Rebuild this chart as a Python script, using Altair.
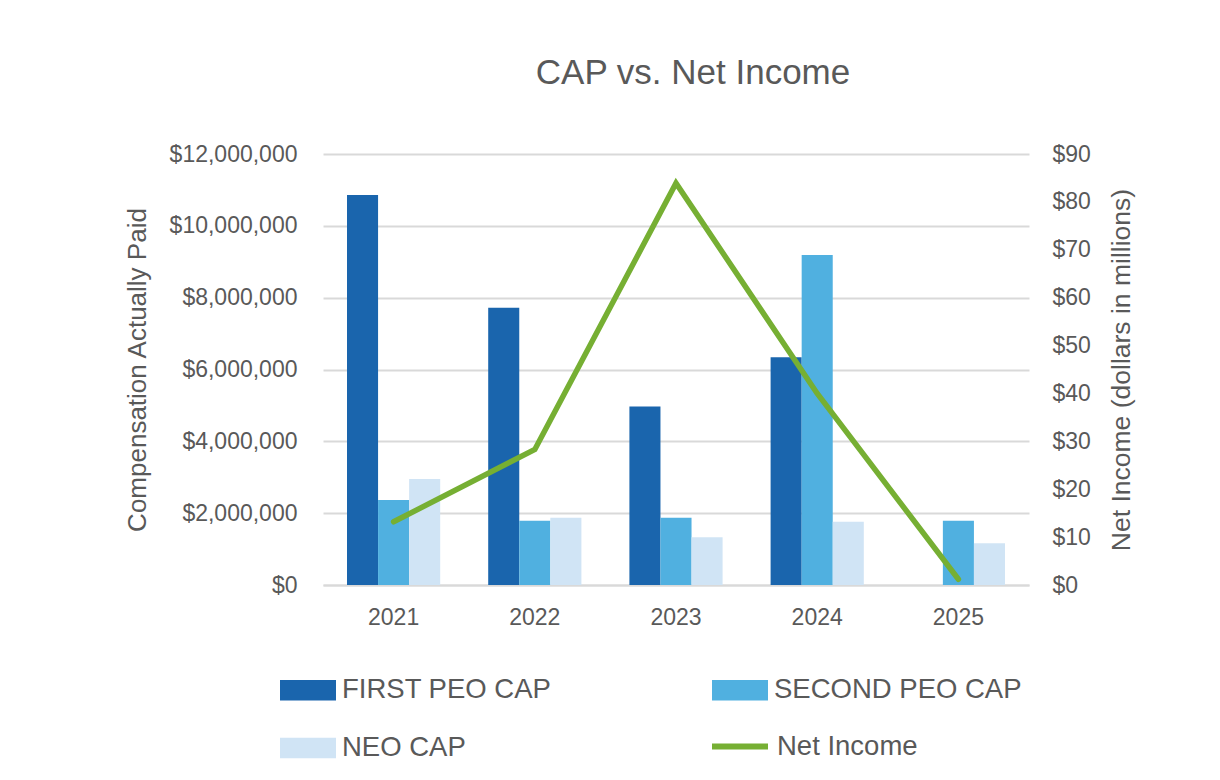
import altair as alt
import pandas as pd

years = ["2021", "2022", "2023", "2024", "2025"]
first_peo_cap = [10860000, 7720000, 4970000, 6340000, 0]
second_peo_cap = [2370000, 1790000, 1870000, 9190000, 1790000]
neo_cap = [2950000, 1870000, 1330000, 1760000, 1160000]
net_income = [13.2, 28.3, 83.9, 40.0, 1.2]

series_names = ["FIRST PEO CAP", "SECOND PEO CAP", "NEO CAP"]
bar_colors = ["#1A65AD", "#50B0E0", "#D0E4F5"]
line_name = "Net Income"
line_color = "#76AF33"
text_color = "#595959"
grid_color = "#D9D9D9"
font = "Liberation Sans"

rows = []
for name, vals in zip(series_names, [first_peo_cap, second_peo_cap, neo_cap]):
    for y, v in zip(years, vals):
        rows.append({"year": y, "series": name, "value": v})
bars_df = pd.DataFrame(rows)
line_df = pd.DataFrame({"year": years, "income": net_income, "series": [line_name] * len(years)})

W, H = 706, 431
PL, PT = 315, 146

x_enc = alt.X(
    "year:N",
    sort=years,
    scale=alt.Scale(paddingInner=0.34, paddingOuter=0.17),
    axis=alt.Axis(
        title=None, labelAngle=0, labelFontSize=23, labelColor=text_color, labelFont=font,
        labelPadding=21, ticks=False, tickSize=0, domainColor=grid_color, domainWidth=2,
        grid=False,
    ),
)

bars = alt.Chart(bars_df).mark_bar().encode(
    x=x_enc,
    xOffset=alt.XOffset("series:N", sort=series_names, scale=alt.Scale(paddingInner=0, paddingOuter=0)),
    y=alt.Y(
        "value:Q",
        scale=alt.Scale(domain=[0, 12000000]),
        axis=alt.Axis(
            values=[0, 2000000, 4000000, 6000000, 8000000, 10000000, 12000000],
            format="$,.0f", labelFontSize=23, labelColor=text_color, labelFont=font,
            labelPadding=26, ticks=False, tickSize=0, domain=False,
            grid=True, gridColor=grid_color, gridWidth=2,
            title="Compensation Actually Paid", titleFontSize=26, titleFont=font,
            titleColor=text_color, titleFontWeight="normal",
            titleX=-186, titleY=H / 2, titleAngle=270, titleBaseline="middle", titleAlign="center",
        ),
    ),
    color=alt.Color(
        "series:N",
        sort=series_names,
        scale=alt.Scale(domain=series_names, range=bar_colors),
        legend=alt.Legend(
            title=None, orient="none", legendX=-43, legendY=508, columns=2, direction="horizontal",
            symbolType="M-1,-0.37H1V0.37H-1Z", symbolSize=3136, symbolStrokeWidth=0,
            labelFontSize=27.5, labelColor=text_color, labelFont=font, labelOffset=6,
            labelLimit=400, columnPadding=160, rowPadding=16, padding=0,
            symbolOpacity=1,
        ),
    ),
)

line = alt.Chart(line_df).mark_line(strokeWidth=5.5, strokeCap="round", strokeJoin="miter").encode(
    x=alt.X("year:N", sort=years),
    y=alt.Y(
        "income:Q",
        scale=alt.Scale(domain=[0, 90]),
        axis=alt.Axis(
            orient="right",
            values=[0, 10, 20, 30, 40, 50, 60, 70, 80, 90],
            format="$.0f", labelFontSize=23, labelColor=text_color, labelFont=font,
            labelPadding=23, ticks=False, tickSize=0, domain=False, grid=False,
            title="Net Income (dollars in millions)", titleFontSize=26.5, titleFont=font,
            titleColor=text_color, titleFontWeight="normal",
            titleX=92, titleY=H / 2, titleAngle=270, titleBaseline="middle", titleAlign="center",
        ),
    ),
    color=alt.Color(
        "series:N",
        scale=alt.Scale(domain=[line_name], range=[line_color]),
        legend=alt.Legend(
            title=None, orient="none", legendX=386, legendY=561.5,
            symbolType="stroke", symbolSize=3136, symbolStrokeWidth=6,
            labelFontSize=27.5, labelColor=text_color, labelFont=font, labelOffset=6,
            labelLimit=400, padding=0,
        ),
    ),
)

chart = (
    alt.layer(bars, line)
    .resolve_scale(y="independent", color="independent")
    .resolve_legend(color="independent")
    .properties(
        width=W,
        height=H,
        autosize=alt.AutoSizeParams(type="none"),
        padding={"left": PL, "top": PT, "right": 1204 - PL - W, "bottom": 764 - PT - H},
        title=alt.TitleParams(
            "CAP vs. Net Income", fontSize=35, font=font, color=text_color, fontWeight="normal",
            anchor="middle", dx=17, baseline="alphabetic", offset=24,
        ),
        background="white",
    )
    .configure_view(stroke=None)
)

chart.save("out.html", embed_options={"renderer": "svg", "actions": False})
